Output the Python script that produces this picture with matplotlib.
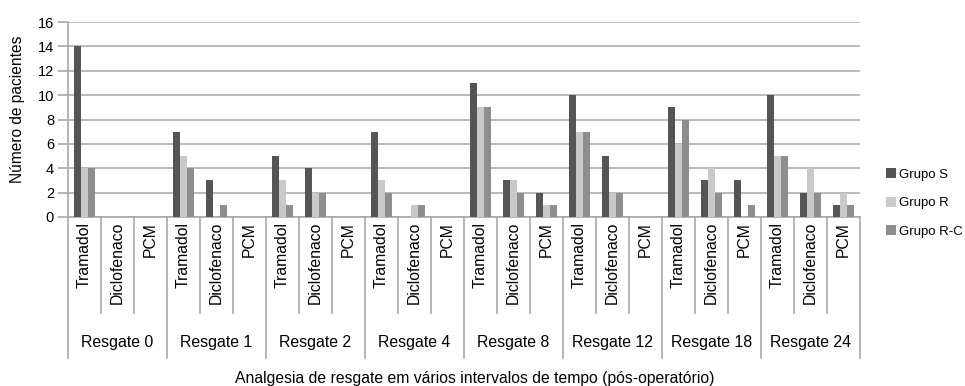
import matplotlib
matplotlib.use("Agg")
import matplotlib.pyplot as plt
import numpy as np

plt.rcParams['font.family'] = ['Liberation Sans', 'DejaVu Sans']

# Time points and drugs (hierarchical x-axis)
intervals = ["Resgate 0", "Resgate 1", "Resgate 2", "Resgate 4",
             "Resgate 8", "Resgate 12", "Resgate 18", "Resgate 24"]
drugs = ["Tramadol", "Diclofenaco", "PCM"]

# Number of patients per interval, flattened as (Tramadol, Diclofenaco, PCM)
grupo_s = [14, 0, 0,   7, 3, 0,   5, 4, 0,   7, 0, 0,
           11, 3, 2,   10, 5, 0,  9, 3, 3,   10, 2, 1]
grupo_r = [4, 0, 0,    5, 0, 0,   3, 2, 0,   3, 1, 0,
           9, 3, 1,    7, 2, 0,   6, 4, 0,   5, 4, 2]
grupo_rc = [4, 0, 0,   4, 1, 0,   1, 2, 0,   2, 1, 0,
            9, 2, 1,   7, 2, 0,   8, 2, 1,   5, 2, 1]

series_names = ["Grupo S", "Grupo R", "Grupo R-C"]
colors = ["#555555", "#c9c9c9", "#8e8e8e"]

W, H = 965, 386
fig = plt.figure(figsize=(W / 100, H / 100), dpi=100)
ax_left, ax_right, ax_top, ax_bottom = 68, 860, 22, 217
ax = fig.add_axes([ax_left / W, 1 - ax_bottom / H,
                   (ax_right - ax_left) / W, (ax_bottom - ax_top) / H])

n = len(intervals) * len(drugs)
x = np.arange(n)
bw = 0.22
for k, (vals, name, c) in enumerate(zip([grupo_s, grupo_r, grupo_rc], series_names, colors)):
    ax.bar(x + (k - 1) * bw, vals, width=bw, color=c, label=name, zorder=3)

ax.set_xlim(-0.5, n - 0.5)
ax.set_ylim(0, 16)
ax.set_yticks(np.arange(0, 17, 2))
ax.yaxis.grid(True, color="#b4b4b4", linewidth=1.3, zorder=0)
ax.set_axisbelow(True)
ax.set_xticks([])
for s in ["top", "right"]:
    ax.spines[s].set_visible(False)
for s in ["left", "bottom"]:
    ax.spines[s].set_color("#a8a8a8")
    ax.spines[s].set_linewidth(1.2)
ax.tick_params(axis="y", length=7, color="#a8a8a8", width=1.2, labelsize=10.5, pad=3)

ax.set_ylabel("Número de pacientes", fontsize=11.2, va="center")
ax.yaxis.set_label_coords((17.5 - ax_left) / (ax_right - ax_left),
                          (ax_bottom - 109) / (ax_bottom - ax_top))

# Hierarchical category axis drawn below the plot
axh = ax_bottom - ax_top
def yfrac(px_below):
    return -px_below / axh

tr = ax.get_xaxis_transform()
line_kw = dict(color="#a8a8a8", linewidth=1.2, clip_on=False, transform=tr)
for i in range(n):
    ax.text(x[i], yfrac(5), drugs[i % 3], rotation=90, ha="center", va="top",
            fontsize=11.3, transform=tr)
for b in range(n + 1):
    xb = b - 0.5
    if b % 3 == 0:
        ax.plot([xb, xb], [0, yfrac(141)], **line_kw)
    else:
        ax.plot([xb, xb], [0, yfrac(96)], **line_kw)
for g, name in enumerate(intervals):
    ax.text(g * 3 + 1, yfrac(125), name, ha="center", va="center",
            fontsize=11.4, transform=tr)

fig.text(475 / W, 1 - 378 / H,
         "Analgesia de resgate em vários intervalos de tempo (pós-operatório)",
         ha="center", va="center", fontsize=11.3)

fig.legend(loc="center left", bbox_to_anchor=(886 / W, 1 - 203 / H), frameon=False,
           fontsize=9.5, handlelength=0.78, handleheight=0.78, handletextpad=0.2,
           labelspacing=1.2, borderpad=0, borderaxespad=0)

fig.savefig("out.png", dpi=100)
